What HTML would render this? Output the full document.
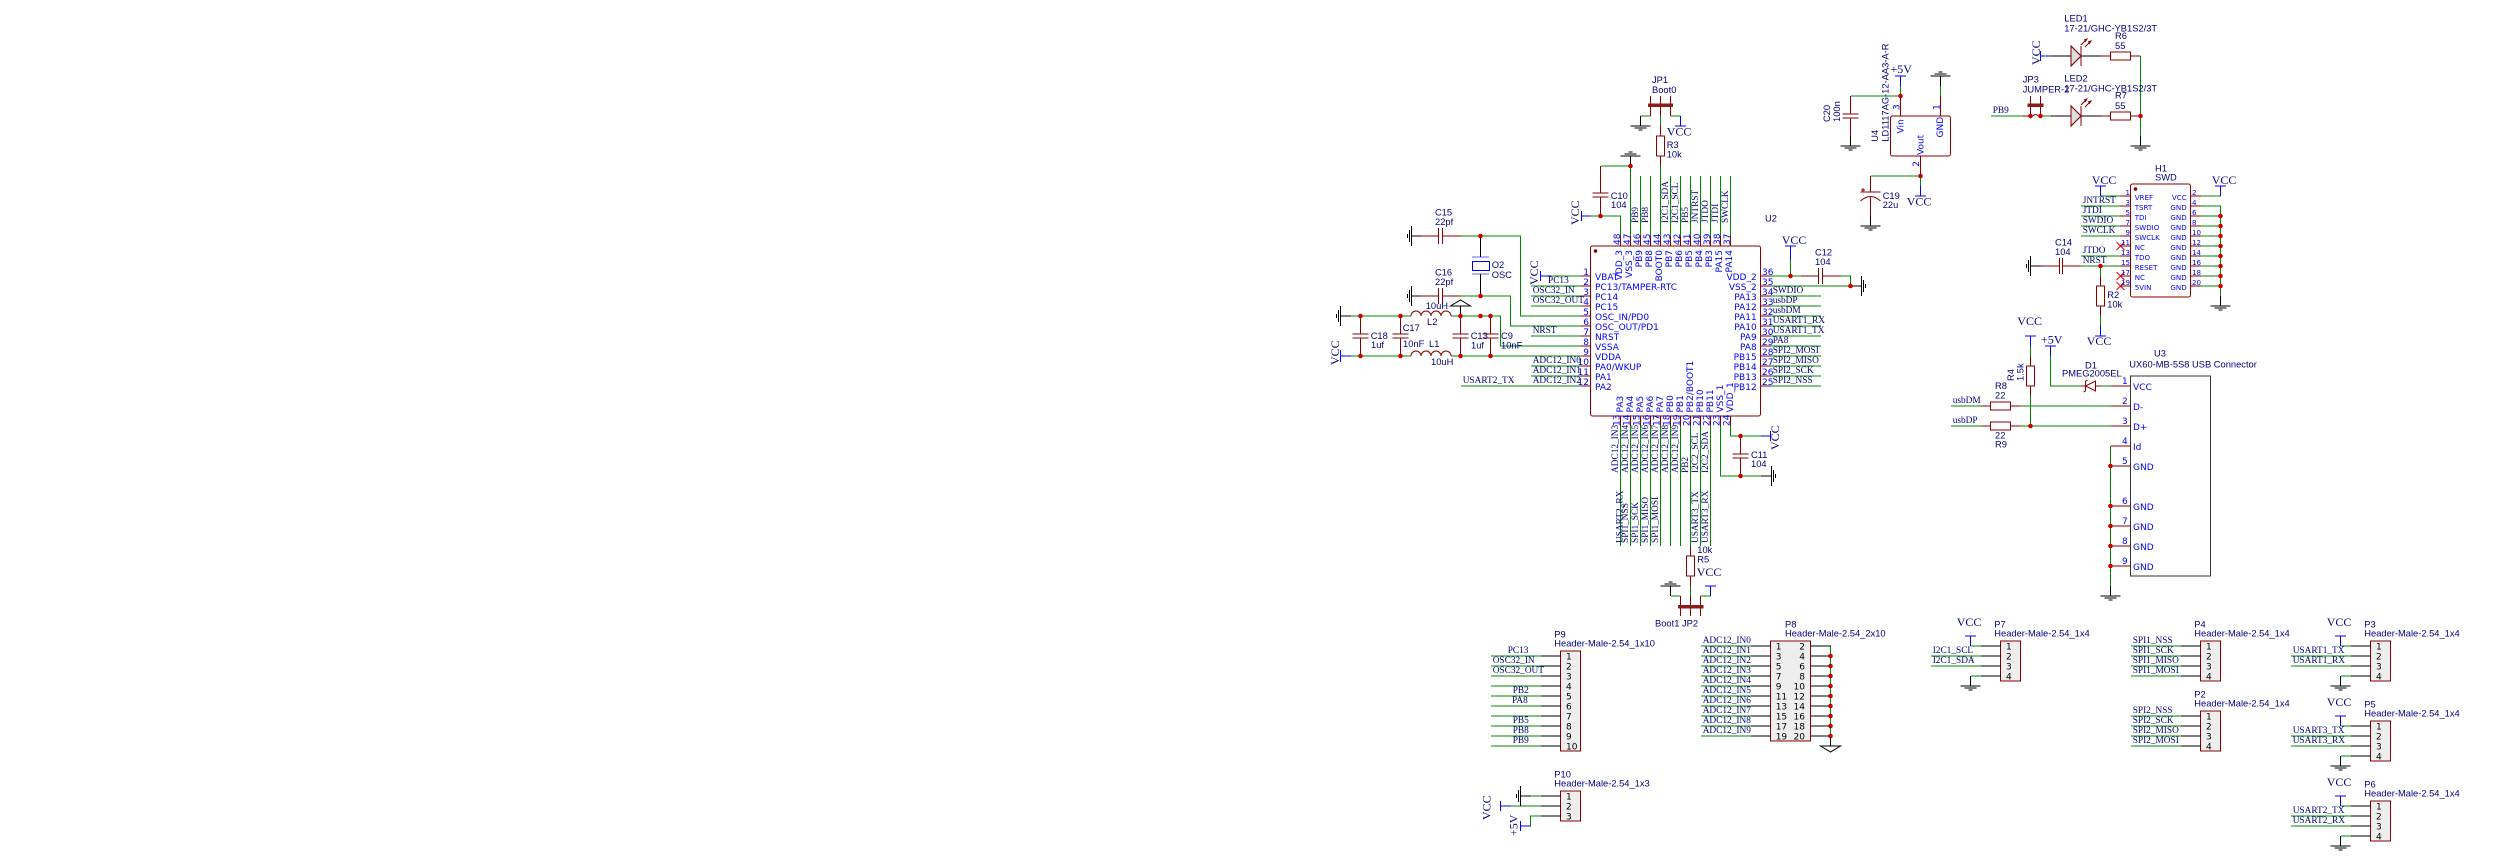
<!DOCTYPE html>
<html><head><meta charset="utf-8"><title>Schematic</title>
<style>
html,body{margin:0;padding:0;background:#fff}
svg{display:block}
.w,.p,.k,.b,.r{fill:none;stroke-width:1}
.w{stroke:#008800}.p{stroke:#880000}.k{stroke:#000}.b{stroke:#0000ff}
text{white-space:pre}
.nm{font:9px "DejaVu Sans",sans-serif;fill:#0000ff}
.bk{font:9px "DejaVu Sans",sans-serif;fill:#000}
.sm{font:7.1px "DejaVu Sans",sans-serif;fill:#0000ff}
.d{font:9.33px "Liberation Sans",sans-serif;fill:#000080}
.s{font:9.33px "Liberation Serif",serif;fill:#000080}
.v{font:12px "Liberation Serif",serif;fill:#000080}
.e{text-anchor:end}
</style></head><body>
<svg xmlns="http://www.w3.org/2000/svg" width="2500" height="862" viewBox="0 0 2500 862">
<defs>
<path id="gnd" d="M-10 0H10M-6 2H6M-2 4H2" fill="none" stroke="#000"/>
<circle id="j" r="2.3" fill="#cc0000"/>
</defs>
<rect width="2500" height="862" fill="#fff"/>

<!-- component bodies -->
<rect x="1590.5" y="246" width="170" height="170" rx="2" fill="#fff" stroke="#880000"/>
<circle cx="1595.5" cy="251" r="1.8" fill="#880000"/>
<rect x="1890.5" y="116" width="60" height="40" rx="2" fill="#fff" stroke="#880000"/>
<rect x="2130.5" y="184" width="60" height="113" rx="2" fill="#fff" stroke="#880000"/>
<circle cx="2135.5" cy="189" r="1.8" fill="#880000"/>
<rect x="2130.5" y="376" width="80" height="200" fill="#fff" stroke="#333"/>
<g fill="#eeeeee" stroke="#880000">
<rect x="1560.5" y="651" width="20" height="100"/>
<rect x="1560.5" y="791" width="20" height="30"/>
<rect x="1770.5" y="641" width="40" height="100"/>
<rect x="2000.5" y="641" width="20" height="40"/>
<rect x="2200.5" y="641" width="20" height="40"/>
<rect x="2200.5" y="711" width="20" height="40"/>
<rect x="2370.5" y="641" width="20" height="40"/>
<rect x="2370.5" y="721" width="20" height="40"/>
<rect x="2370.5" y="801" width="20" height="40"/>
</g>

<!-- green wires -->
<path class="w" d="
M1461 236H1520.5V316H1581
M1461 296H1510.5V326H1581
M1351 316H1411M1451 316H1500.5V346H1581
M1351 356H1411M1451 356H1581
M1551 276H1581M1531 286H1581M1531 296H1581M1531 306H1581M1531 336H1581
M1531 366H1581M1531 376H1581M1461 386H1581
M1591 216H1620.5V236
M1601 166H1630.5V236
M1640.5 176V236M1650.5 176V236M1670.5 176V236M1680.5 176V236M1690.5 176V236M1700.5 176V236M1710.5 176V236M1720.5 176V236M1730.5 176V236
M1660.5 166V236M1660.5 116V126
M1650.5 116H1640.5M1670.5 116H1680.5
M1771 276H1801M1841 276H1850.5V286M1771 286H1851M1790.5 276V260
M1771 296H1821M1771 306H1821M1771 316H1821M1771 326H1821M1771 336H1821M1771 346H1821M1771 356H1821M1771 366H1821M1771 376H1821M1771 386H1821
M1620.5 426V546M1630.5 426V546M1640.5 426V546M1650.5 426V546M1660.5 426V546M1670.5 426V546M1680.5 426V546M1690.5 426V546M1700.5 426V546M1710.5 426V546
M1720.5 426V476H1761M1730.5 426V436H1761
M1690.5 586V596M1680.5 596H1671M1700.5 596H1711
M1851 96H1901M1900.5 86V96M1940.5 86V96
M1871 176H1921M1920.5 176V186
M2140.5 56V136
M1991 116H2023M2041 116H2051
M2101 196H2121M2201 196H2220.5V186
M2201 206H2220.5V296
M2201 216H2221M2201 226H2221M2201 236H2221M2201 246H2221M2201 256H2221M2201 266H2221M2201 276H2221M2201 286H2221
M2081 206H2121M2081 216H2121M2081 226H2121M2081 236H2121M2081 256H2121M2081 266H2121
M2100.5 266V276M2100.5 316V326
M2030.5 346V356M2030.5 396V426
M2050.5 356V386H2081M2101 386H2111
M1951 406H1981M2021 406H2111M1951 426H1981M2021 426H2111
M2110.5 446V586
M1491 656H1541M1491 666H1541M1491 676H1541M1491 686H1541M1491 696H1541M1491 706H1541M1491 716H1541M1491 726H1541M1491 736H1541M1491 746H1541
M1531 796H1541M1511 806H1541M1541 816H1530.5V826
M1701 646H1751M1701 656H1751M1701 666H1751M1701 676H1751M1701 686H1751M1701 696H1751M1701 706H1751M1701 716H1751M1701 726H1751M1701 736H1751
M1830.5 646V736
M1971 646H1981M1931 656H1981M1931 666H1981M1971 676H1981
M2131 646H2181M2131 656H2181M2131 666H2181M2131 676H2181
M2131 716H2181M2131 726H2181M2131 736H2181M2131 746H2181
M2341 646H2351M2291 656H2351M2291 666H2351M2341 676H2351
M2341 726H2351M2291 736H2351M2291 746H2351M2341 756H2351
M2341 806H2351M2291 816H2351M2291 826H2351M2341 836H2351"/>

<!-- red pins / component leads -->
<path class="p" d="
M1581 276H1591M1581 286H1591M1581 296H1591M1581 306H1591M1581 316H1591M1581 326H1591M1581 336H1591M1581 346H1591M1581 356H1591M1581 366H1591M1581 376H1591M1581 386H1591
M1620.5 236V246M1630.5 236V246M1640.5 236V246M1650.5 236V246M1660.5 236V246M1670.5 236V246M1680.5 236V246M1690.5 236V246M1700.5 236V246M1710.5 236V246M1720.5 236V246M1730.5 236V246
M1761 276H1771M1761 286H1771M1761 296H1771M1761 306H1771M1761 316H1771M1761 326H1771M1761 336H1771M1761 346H1771M1761 356H1771M1761 366H1771M1761 376H1771M1761 386H1771
M1620.5 416V426M1630.5 416V426M1640.5 416V426M1650.5 416V426M1660.5 416V426M1670.5 416V426M1680.5 416V426M1690.5 416V426M1700.5 416V426M1710.5 416V426M1720.5 416V426M1730.5 416V426
M1421 236H1438.5M1442.5 236H1461M1438.5 228V244M1442.5 228V244
M1421 296H1438.5M1442.5 296H1461M1438.5 288V304M1442.5 288V304
M1360.5 316V334M1360.5 338V356M1352.5 334H1368.5M1352.5 338H1368.5
M1400.5 316V334M1400.5 338V356M1392.5 334H1408.5M1392.5 338H1408.5
M1460.5 316V334M1460.5 338V356M1452.5 334H1468.5M1452.5 338H1468.5
M1490.5 316V334M1490.5 338V356M1482.5 334H1498.5M1482.5 338H1498.5
M1411 316a5 5 0 0 1 10 0a5 5 0 0 1 10 0a5 5 0 0 1 10 0a5 5 0 0 1 10 0
M1411 356a5 5 0 0 1 10 0a5 5 0 0 1 10 0a5 5 0 0 1 10 0a5 5 0 0 1 10 0
M1600.5 166V193M1600.5 197V216M1592.5 193H1608.5M1592.5 197H1608.5
M1660.5 96V116M1660.5 126V136M1660.5 156V166M1650.5 96V116M1670.5 96V116
M1656.5 136H1664.5V156H1656.5Z
M1801 276H1818.5M1822.5 276H1841M1818.5 268V284M1822.5 268V284
M1740.5 436V454M1740.5 458V476M1732.5 454H1748.5M1732.5 458H1748.5
M1690.5 546V556M1690.5 576V586M1686.5 556H1694.5V576H1686.5Z
M1680.5 596V616M1690.5 596V616M1700.5 596V616
M1900.5 96V116M1940.5 96V116M1920.5 156V176
M1850.5 96V114M1850.5 118V136M1842.5 114H1858.5M1842.5 118H1858.5
M1870.5 176V192M1860.5 192H1880.5M1870.5 197V216M1860.5 201Q1870.5 192 1880.5 201M1863 188v4M1861 190h4
M2071 46V66L2081 56ZM2081 46V66M2101 56H2111M2131 56H2140.5M2110.5 52H2130.5V60H2110.5Z
M2071 106V126L2081 116ZM2081 106V126M2101 116H2111M2131 116H2140.5M2110.5 112H2130.5V120H2110.5Z
M2081 45L2087 39M2085 42L2087 39L2084 40M2085 47L2091 41M2089 44L2091 41L2088 42
M2081 105L2087 99M2085 102L2087 99L2084 100M2085 107L2091 101M2089 104L2091 101L2088 102
M2023 116H2030.5M2030.5 96V116M2040.5 96V116M2033 116a3 3 0 0 1 5 0
M2120 196H2131M2120 206H2131M2120 216H2131M2120 226H2131M2120 236H2131M2120 246H2131M2120 256H2131M2120 266H2131M2120 276H2131M2120 286H2131
M2191 196H2201M2191 206H2201M2191 216H2201M2191 226H2201M2191 236H2201M2191 246H2201M2191 256H2201M2191 266H2201M2191 276H2201M2191 286H2201
M2041 266H2059.5M2062.5 266H2081M2059.5 258V274M2062.5 258V274
M2100.5 276V286M2100.5 306V316M2096.5 286H2104.5V306H2096.5Z
M2030.5 356V366M2030.5 386V396M2026.5 366H2034.5V386H2026.5Z
M2081 386H2085.5M2095.5 386H2101M2095.5 381V391L2085.5 386ZM2085.5 381V391M2085.5 381L2087.5 380M2085.5 391L2083.5 392
M2111 386H2131M2111 406H2131M2111 426H2131M2111 446H2131M2111 466H2131M2111 506H2131M2111 526H2131M2111 546H2131M2111 566H2131
M1981 406H1990.5M2010.5 406H2021M1990.5 402H2010.5V410H1990.5Z
M1981 426H1990.5M2010.5 426H2021M1990.5 422H2010.5V430H1990.5Z"/>
<path d="M2071 46V66L2081 56Z" fill="#dddddd" stroke="#880000"/>
<path d="M2071 106V126L2081 116Z" fill="#dddddd" stroke="#880000"/>

<!-- jumper bars -->
<g fill="#8b1a1a">
<rect x="1648" y="103.5" width="25" height="3.5"/>
<rect x="1678" y="605" width="25.5" height="3.5"/>
<rect x="2027.5" y="103.5" width="16" height="3.5"/>
</g>

<!-- black leads -->
<path class="k" d="
M1411.5 236H1421M1411.5 296H1421M1340.5 316H1351
M1480.5 236V257M1480.5 274V296
M1460.5 316V306M1450.5 306H1470.5L1460.5 300Z
M1630.5 156V166M1640.5 116V126
M1851 286H1861.5M1761 476H1771.5
M1670.5 586V596
M1850.5 136V146M1870.5 216V226M1940.5 76V86
M2051 56H2071M2081 56H2101M2051 116H2071M2081 116H2101
M2140.5 136V146M2220.5 296V306M2031 266H2041
M2110.5 586V596
M1541 656H1561M1541 666H1561M1541 676H1561M1541 686H1561M1541 696H1561M1541 706H1561M1541 716H1561M1541 726H1561M1541 736H1561M1541 746H1561
M1541 796H1561M1541 806H1561M1541 816H1561M1520.5 796H1531
M1751 646H1771M1751 656H1771M1751 666H1771M1751 676H1771M1751 686H1771M1751 696H1771M1751 706H1771M1751 716H1771M1751 726H1771M1751 736H1771
M1811 646H1831M1811 656H1831M1811 666H1831M1811 676H1831M1811 686H1831M1811 696H1831M1811 706H1831M1811 716H1831M1811 726H1831M1811 736H1831
M1830.5 736V746M1820.5 746H1840.5L1830.5 752Z
M1981 646H2001M1981 656H2001M1981 666H2001M1981 676H2001M1970.5 676V686
M2181 646H2201M2181 656H2201M2181 666H2201M2181 676H2201
M2181 716H2201M2181 726H2201M2181 736H2201M2181 746H2201
M2351 646H2371M2351 656H2371M2351 666H2371M2351 676H2371M2340.5 676V686
M2351 726H2371M2351 736H2371M2351 746H2371M2351 756H2371M2340.5 756V766
M2351 806H2371M2351 816H2371M2351 826H2371M2351 836H2371M2340.5 836V846"/>

<!-- blue power symbols -->
<path class="b" d="
M1340.5 350V362M1340 356H1351
M1581.5 211V221M1581 216H1591
M1540.5 271V281M1541 276H1551
M1675 126H1686M1680.5 116V126
M1785 246H1796M1790.5 246V260
M1770.5 431V441M1761 436H1771
M1705 586H1716M1710.5 586V596
M1895 76H1906M1900.5 76V86
M1915 196H1926M1920.5 186V196
M2040.5 51V61M2041 56H2051
M2095 186H2106M2100.5 186V196
M2215 186H2226M2220.5 186V196
M2095 336H2106M2100.5 326V336
M2025 336H2036M2030.5 336V346
M2045 346H2056M2050.5 346V356
M1500.5 801V811M1501 806H1511
M1520.5 821V831M1521 826H1531
M1965 636H1976M1970.5 636V646
M2335 636H2346M2340.5 636V646
M2335 716H2346M2340.5 716V726
M2335 796H2346M2340.5 796V806"/>

<!-- crystal -->
<path d="M1472 257H1489M1472 274H1489" fill="none" stroke="#0000ff" stroke-opacity=".6"/>
<rect x="1472.5" y="261.5" width="17" height="9" fill="none" stroke="#0000ff"/>

<!-- X no-connects -->
<path d="M2116.5 242L2124.5 250M2124.5 242L2116.5 250M2116.5 272L2124.5 280M2124.5 272L2116.5 280M2116.5 282L2124.5 290M2124.5 282L2116.5 290" fill="none" stroke="#ee0000"/>

<!-- grounds -->
<use href="#gnd" transform="translate(1640.5 126)"/>
<use href="#gnd" transform="translate(1850.5 146)"/>
<use href="#gnd" transform="translate(1870.5 226)"/>
<use href="#gnd" transform="translate(2140.5 146)"/>
<use href="#gnd" transform="translate(2220.5 306)"/>
<use href="#gnd" transform="translate(2110.5 596)"/>
<use href="#gnd" transform="translate(1970.5 686)"/>
<use href="#gnd" transform="translate(2340.5 686)"/>
<use href="#gnd" transform="translate(2340.5 766)"/>
<use href="#gnd" transform="translate(2340.5 846)"/>
<use href="#gnd" transform="translate(1630.5 156) scale(1 -1)"/>
<use href="#gnd" transform="translate(1670.5 586) scale(1 -1)"/>
<use href="#gnd" transform="translate(1940.5 76) scale(1 -1)"/>
<use href="#gnd" transform="translate(1411.5 236) rotate(90)"/>
<use href="#gnd" transform="translate(1411.5 296) rotate(90)"/>
<use href="#gnd" transform="translate(1340.5 316) rotate(90)"/>
<use href="#gnd" transform="translate(2030.5 266) rotate(90)"/>
<use href="#gnd" transform="translate(1520.5 796) rotate(90)"/>
<use href="#gnd" transform="translate(1861.5 286) rotate(-90)"/>
<use href="#gnd" transform="translate(1771.5 476) rotate(-90)"/>

<!-- junctions -->
<g fill="#cc0000">
<circle cx="1480.5" cy="236" r="2.3"/><circle cx="1480.5" cy="296" r="2.3"/>
<circle cx="1360.5" cy="316" r="2.3"/><circle cx="1400.5" cy="316" r="2.3"/><circle cx="1460.5" cy="316" r="2.3"/><circle cx="1480.5" cy="316" r="2.3"/><circle cx="1490.5" cy="316" r="2.3"/>
<circle cx="1360.5" cy="356" r="2.3"/><circle cx="1400.5" cy="356" r="2.3"/><circle cx="1460.5" cy="356" r="2.3"/><circle cx="1490.5" cy="356" r="2.3"/>
<circle cx="1600.5" cy="216" r="2.3"/><circle cx="1630.5" cy="166" r="2.3"/>
<circle cx="1790.5" cy="276" r="2.3"/><circle cx="1850.5" cy="286" r="2.3"/>
<circle cx="1740.5" cy="436" r="2.3"/><circle cx="1740.5" cy="476" r="2.3"/>
<circle cx="1900.5" cy="96" r="2.3"/><circle cx="1920.5" cy="176" r="2.3"/>
<circle cx="2030.5" cy="116" r="2.3"/><circle cx="2040.5" cy="116" r="2.3"/><circle cx="2140.5" cy="116" r="2.3"/>
<circle cx="2100.5" cy="266" r="2.3"/>
<circle cx="2220.5" cy="216" r="2.3"/><circle cx="2220.5" cy="226" r="2.3"/><circle cx="2220.5" cy="236" r="2.3"/><circle cx="2220.5" cy="246" r="2.3"/><circle cx="2220.5" cy="256" r="2.3"/><circle cx="2220.5" cy="266" r="2.3"/><circle cx="2220.5" cy="276" r="2.3"/><circle cx="2220.5" cy="286" r="2.3"/>
<circle cx="2030.5" cy="426" r="2.3"/>
<circle cx="2110.5" cy="466" r="2.3"/><circle cx="2110.5" cy="506" r="2.3"/><circle cx="2110.5" cy="526" r="2.3"/><circle cx="2110.5" cy="546" r="2.3"/><circle cx="2110.5" cy="566" r="2.3"/>
<circle cx="1830.5" cy="656" r="2.3"/><circle cx="1830.5" cy="666" r="2.3"/><circle cx="1830.5" cy="676" r="2.3"/><circle cx="1830.5" cy="686" r="2.3"/><circle cx="1830.5" cy="696" r="2.3"/><circle cx="1830.5" cy="706" r="2.3"/><circle cx="1830.5" cy="716" r="2.3"/><circle cx="1830.5" cy="726" r="2.3"/><circle cx="1830.5" cy="736" r="2.3"/>
</g>

<!-- IC pin names -->
<g class="nm">
<text x="1595" y="280">VBAT</text><text x="1595" y="290">PC13/TAMPER-RTC</text><text x="1595" y="300">PC14</text><text x="1595" y="310">PC15</text><text x="1595" y="320">OSC_IN/PD0</text><text x="1595" y="330">OSC_OUT/PD1</text><text x="1595" y="340">NRST</text><text x="1595" y="350">VSSA</text><text x="1595" y="360">VDDA</text><text x="1595" y="370">PA0/WKUP</text><text x="1595" y="380">PA1</text><text x="1595" y="390">PA2</text>
<g class="e" text-anchor="end">
<text x="1589" y="275">1</text><text x="1589" y="285">2</text><text x="1589" y="295">3</text><text x="1589" y="305">4</text><text x="1589" y="315">5</text><text x="1589" y="325">6</text><text x="1589" y="335">7</text><text x="1589" y="345">8</text><text x="1589" y="355">9</text><text x="1589" y="365">10</text><text x="1589" y="375">11</text><text x="1589" y="385">12</text>
<text x="1756.7" y="280">VDD_2</text><text x="1756.7" y="290">VSS_2</text><text x="1756.7" y="300">PA13</text><text x="1756.7" y="310">PA12</text><text x="1756.7" y="320">PA11</text><text x="1756.7" y="330">PA10</text><text x="1756.7" y="340">PA9</text><text x="1756.7" y="350">PA8</text><text x="1756.7" y="360">PB15</text><text x="1756.7" y="370">PB14</text><text x="1756.7" y="380">PB13</text><text x="1756.7" y="390">PB12</text>
<text transform="translate(1622 250) rotate(-90)">VDD_3</text><text transform="translate(1632 250) rotate(-90)">VSS_3</text><text transform="translate(1642 250) rotate(-90)">PB9</text><text transform="translate(1652 250) rotate(-90)">PB8</text><text transform="translate(1662 250) rotate(-90)">BOOT0</text><text transform="translate(1672 250) rotate(-90)">PB7</text><text transform="translate(1682 250) rotate(-90)">PB6</text><text transform="translate(1692 250) rotate(-90)">PB5</text><text transform="translate(1702 250) rotate(-90)">PB4</text><text transform="translate(1712 250) rotate(-90)">PB3</text><text transform="translate(1722 250) rotate(-90)">PA15</text><text transform="translate(1732 250) rotate(-90)">PA14</text>
</g>
<text x="1762" y="275">36</text><text x="1762" y="285">35</text><text x="1762" y="295">34</text><text x="1762" y="305">33</text><text x="1762" y="315">32</text><text x="1762" y="325">31</text><text x="1762" y="335">30</text><text x="1762" y="345">29</text><text x="1762" y="355">28</text><text x="1762" y="365">27</text><text x="1762" y="375">26</text><text x="1762" y="385">25</text>
<text transform="translate(1620 245) rotate(-90)">48</text><text transform="translate(1630 245) rotate(-90)">47</text><text transform="translate(1640 245) rotate(-90)">46</text><text transform="translate(1650 245) rotate(-90)">45</text><text transform="translate(1660 245) rotate(-90)">44</text><text transform="translate(1670 245) rotate(-90)">43</text><text transform="translate(1680 245) rotate(-90)">42</text><text transform="translate(1690 245) rotate(-90)">41</text><text transform="translate(1700 245) rotate(-90)">40</text><text transform="translate(1710 245) rotate(-90)">39</text><text transform="translate(1720 245) rotate(-90)">38</text><text transform="translate(1730 245) rotate(-90)">37</text>
<text transform="translate(1619.5 426) rotate(-90)">13</text><text transform="translate(1629.5 426) rotate(-90)">14</text><text transform="translate(1639.5 426) rotate(-90)">15</text><text transform="translate(1649.5 426) rotate(-90)">16</text><text transform="translate(1659.5 426) rotate(-90)">17</text><text transform="translate(1669.5 426) rotate(-90)">18</text><text transform="translate(1679.5 426) rotate(-90)">19</text><text transform="translate(1689.5 426) rotate(-90)">20</text><text transform="translate(1699.5 426) rotate(-90)">21</text><text transform="translate(1709.5 426) rotate(-90)">22</text><text transform="translate(1719.5 426) rotate(-90)">23</text><text transform="translate(1729.5 426) rotate(-90)">24</text>
<text transform="translate(1623 412.5) rotate(-90)">PA3</text><text transform="translate(1633 412.5) rotate(-90)">PA4</text><text transform="translate(1643 412.5) rotate(-90)">PA5</text><text transform="translate(1653 412.5) rotate(-90)">PA6</text><text transform="translate(1663 412.5) rotate(-90)">PA7</text><text transform="translate(1673 412.5) rotate(-90)">PB0</text><text transform="translate(1683 412.5) rotate(-90)">PB1</text><text transform="translate(1693 412.5) rotate(-90)">PB2/BOOT1</text><text transform="translate(1703 412.5) rotate(-90)">PB10</text><text transform="translate(1713 412.5) rotate(-90)">PB11</text><text transform="translate(1723 412.5) rotate(-90)">VSS_1</text><text transform="translate(1733 412.5) rotate(-90)">VDD_1</text>
<!-- U4 -->
<text transform="translate(1903.3 133.5) rotate(-90)">Vin</text><text transform="translate(1923.3 155) rotate(-90)">Vout</text><text transform="translate(1943 137.5) rotate(-90)">GND</text>
<text transform="translate(1899.3 110) rotate(-90)">3</text><text transform="translate(1919 166.7) rotate(-90)">2</text><text transform="translate(1939.3 110) rotate(-90)">1</text>
<!-- U3 -->
<text x="2133" y="390">VCC</text><text x="2133" y="410">D-</text><text x="2133" y="430">D+</text><text x="2133" y="450">Id</text><text x="2133" y="470">GND</text><text x="2133" y="510">GND</text><text x="2133" y="530">GND</text><text x="2133" y="550">GND</text><text x="2133" y="570">GND</text>
<text x="2122" y="384">1</text><text x="2122" y="404">2</text><text x="2122" y="424">3</text><text x="2122" y="444">4</text><text x="2122" y="464">5</text><text x="2122" y="504">6</text><text x="2122" y="524">7</text><text x="2122" y="544">8</text><text x="2122" y="564">9</text>
</g>

<!-- H1 small text -->
<g class="sm">
<text x="2134.7" y="200">VREF</text><text x="2134.7" y="210">TSRT</text><text x="2134.7" y="220">TDI</text><text x="2134.7" y="230">SWDIO</text><text x="2134.7" y="240">SWCLK</text><text x="2134.7" y="250">NC</text><text x="2134.7" y="260">TDO</text><text x="2134.7" y="270">RESET</text><text x="2134.7" y="280">NC</text><text x="2134.7" y="290">5VIN</text>
<g text-anchor="end">
<text x="2186.7" y="200">VCC</text><text x="2186.7" y="210">GND</text><text x="2186.7" y="220">GND</text><text x="2186.7" y="230">GND</text><text x="2186.7" y="240">GND</text><text x="2186.7" y="250">GND</text><text x="2186.7" y="260">GND</text><text x="2186.7" y="270">GND</text><text x="2186.7" y="280">GND</text><text x="2186.7" y="290">GND</text>
<text x="2130" y="195">1</text><text x="2130" y="205">3</text><text x="2130" y="215">5</text><text x="2130" y="225">7</text><text x="2130" y="235">9</text><text x="2130" y="245">11</text><text x="2130" y="255">13</text><text x="2130" y="265">15</text><text x="2130" y="275">17</text><text x="2130" y="285">19</text>
</g>
<text x="2192" y="195">2</text><text x="2192" y="205">4</text><text x="2192" y="215">6</text><text x="2192" y="225">8</text><text x="2192" y="235">10</text><text x="2192" y="245">12</text><text x="2192" y="255">14</text><text x="2192" y="265">16</text><text x="2192" y="275">18</text><text x="2192" y="285">20</text>
</g>

<!-- header pin numbers -->
<g class="bk">
<text x="1566" y="659.5">1</text><text x="1566" y="669.5">2</text><text x="1566" y="679.5">3</text><text x="1566" y="689.5">4</text><text x="1566" y="699.5">5</text><text x="1566" y="709.5">6</text><text x="1566" y="719.5">7</text><text x="1566" y="729.5">8</text><text x="1566" y="739.5">9</text><text x="1566" y="749.5">10</text>
<text x="1566" y="799.5">1</text><text x="1566" y="809.5">2</text><text x="1566" y="819.5">3</text>
<text x="1775.7" y="649.5">1</text><text x="1775.7" y="659.5">3</text><text x="1775.7" y="669.5">5</text><text x="1775.7" y="679.5">7</text><text x="1775.7" y="689.5">9</text><text x="1775.7" y="699.5">11</text><text x="1775.7" y="709.5">13</text><text x="1775.7" y="719.5">15</text><text x="1775.7" y="729.5">17</text><text x="1775.7" y="739.5">19</text>
<g text-anchor="end"><text x="1805" y="649.5">2</text><text x="1805" y="659.5">4</text><text x="1805" y="669.5">6</text><text x="1805" y="679.5">8</text><text x="1805" y="689.5">10</text><text x="1805" y="699.5">12</text><text x="1805" y="709.5">14</text><text x="1805" y="719.5">16</text><text x="1805" y="729.5">18</text><text x="1805" y="739.5">20</text></g>
<text x="2006" y="649.5">1</text><text x="2006" y="659.5">2</text><text x="2006" y="669.5">3</text><text x="2006" y="679.5">4</text>
<text x="2206" y="649.5">1</text><text x="2206" y="659.5">2</text><text x="2206" y="669.5">3</text><text x="2206" y="679.5">4</text>
<text x="2206" y="719.5">1</text><text x="2206" y="729.5">2</text><text x="2206" y="739.5">3</text><text x="2206" y="749.5">4</text>
<text x="2376" y="649.5">1</text><text x="2376" y="659.5">2</text><text x="2376" y="669.5">3</text><text x="2376" y="679.5">4</text>
<text x="2376" y="729.5">1</text><text x="2376" y="739.5">2</text><text x="2376" y="749.5">3</text><text x="2376" y="759.5">4</text>
<text x="2376" y="809.5">1</text><text x="2376" y="819.5">2</text><text x="2376" y="829.5">3</text><text x="2376" y="839.5">4</text>
</g>

<!-- designators and values -->
<g class="d">
<text x="1435" y="215.7">C15</text><text x="1435" y="225">22pf</text>
<text x="1491.7" y="268">O2</text><text x="1491.7" y="278">OSC</text>
<text x="1435" y="275.7">C16</text><text x="1435" y="285">22pf</text>
<text x="1425.7" y="309">10uH</text><text x="1427" y="325">L2</text>
<text x="1370.7" y="339">C18</text><text x="1371" y="348">1uf</text>
<text x="1402.7" y="331">C17</text><text x="1403" y="347">10nF</text>
<text x="1470.7" y="339">C13</text><text x="1471" y="348.5">1uf</text>
<text x="1501" y="339">C9</text><text x="1501" y="348.5">10nF</text>
<text x="1429" y="347">L1</text><text x="1431" y="365">10uH</text>
<text x="1610.7" y="199">C10</text><text x="1611" y="208">104</text>
<text x="1652" y="83">JP1</text><text x="1652" y="93">Boot0</text>
<text x="1666.7" y="148">R3</text><text x="1666.7" y="157.7">10k</text>
<text x="1765" y="221.7">U2</text>
<text x="1815" y="255.7">C12</text><text x="1815" y="265">104</text>
<text x="1751" y="458">C11</text><text x="1751" y="467">104</text>
<text x="1697.3" y="553">10k</text><text x="1697.3" y="562.3">R5</text>
<text x="1655" y="626.7">Boot1</text><text x="1682" y="626.7">JP2</text>
<text transform="translate(1830 122) rotate(-90)">C20</text><text transform="translate(1840 122) rotate(-90)">100n</text>
<text transform="translate(1878 141.7) rotate(-90)">U4</text><text transform="translate(1888.3 141.7) rotate(-90)">LD1117AG-12-AA3-A-R</text>
<text x="1882.7" y="199">C19</text><text x="1882.7" y="208">22u</text>
<text x="2064.3" y="21.7">LED1</text><text x="2064.3" y="31.7">17-21/GHC-YB1S2/3T</text>
<text x="2115" y="39">R6</text><text x="2115" y="49">55</text>
<text x="2064.3" y="81.7">LED2</text><text x="2064.3" y="91.7">17-21/GHC-YB1S2/3T</text>
<text x="2115" y="98.3">R7</text><text x="2115" y="109">55</text>
<text x="2022.7" y="82.3">JP3</text><text x="2022.7" y="92.3">JUMPER-2</text>
<text x="2155" y="171.7">H1</text><text x="2155" y="180.7">SWD</text>
<text x="2107.3" y="298">R2</text><text x="2107.3" y="307.7">10k</text>
<text x="2055" y="245.7">C14</text><text x="2055" y="255">104</text>
<text x="2085" y="368.3">D1</text><text x="2062" y="376.7">PMEG2005EL</text>
<text x="2154" y="356.7">U3</text><text x="2129.3" y="367.3">UX60-MB-5S8 USB Connector</text>
<text transform="translate(2014 381) rotate(-90)">R4</text><text transform="translate(2023.3 381) rotate(-90)">1.5k</text>
<text x="1995" y="389">R8</text><text x="1995" y="398.3">22</text>
<text x="1995" y="438.3">22</text><text x="1995" y="447.7">R9</text>
<text x="1554.3" y="637.3">P9</text><text x="1554.3" y="646.7">Header-Male-2.54_1x10</text>
<text x="1554.3" y="777.3">P10</text><text x="1554.3" y="786.7">Header-Male-2.54_1x3</text>
<text x="1785" y="627.3">P8</text><text x="1785" y="636.7">Header-Male-2.54_2x10</text>
<text x="1994.3" y="627.3">P7</text><text x="1994.3" y="636.7">Header-Male-2.54_1x4</text>
<text x="2194.3" y="627.3">P4</text><text x="2194.3" y="636.7">Header-Male-2.54_1x4</text>
<text x="2194.3" y="697.3">P2</text><text x="2194.3" y="706.7">Header-Male-2.54_1x4</text>
<text x="2364.3" y="627.3">P3</text><text x="2364.3" y="636.7">Header-Male-2.54_1x4</text>
<text x="2364.3" y="707.3">P5</text><text x="2364.3" y="716.7">Header-Male-2.54_1x4</text>
<text x="2364.3" y="787.3">P6</text><text x="2364.3" y="796.7">Header-Male-2.54_1x4</text>
</g>

<!-- net labels -->
<g class="s">
<text x="1548" y="283">PC13</text><text x="1532.7" y="293">OSC32_IN</text><text x="1532.7" y="303">OSC32_OUT</text><text x="1532.7" y="333">NRST</text><text x="1532.7" y="363">ADC12_IN0</text><text x="1532.7" y="373">ADC12_IN1</text><text x="1532.7" y="383">ADC12_IN2</text><text x="1462.7" y="383">USART2_TX</text>
<text x="1772.7" y="293">SWDIO</text><text x="1772.7" y="303">usbDP</text><text x="1772.7" y="313">usbDM</text><text x="1772.7" y="323">USART1_RX</text><text x="1772.7" y="333">USART1_TX</text><text x="1772.7" y="343">PA8</text><text x="1772.7" y="353">SPI2_MOSI</text><text x="1772.7" y="363">SPI2_MISO</text><text x="1772.7" y="373">SPI2_SCK</text><text x="1772.7" y="383">SPI2_NSS</text>
<text transform="translate(1638 223) rotate(-90)">PB9</text><text transform="translate(1648 223) rotate(-90)">PB8</text><text transform="translate(1668 223) rotate(-90)">I2C1_SDA</text><text transform="translate(1678 223) rotate(-90)">I2C1_SCL</text><text transform="translate(1688 223) rotate(-90)">PB5</text><text transform="translate(1698 223) rotate(-90)">JNTRST</text><text transform="translate(1708 223) rotate(-90)">JTDO</text><text transform="translate(1718 223) rotate(-90)">JTDI</text><text transform="translate(1728 223) rotate(-90)">SWCLK</text>
<text transform="translate(1618 473) rotate(-90)">ADC12_IN3</text><text transform="translate(1628 473) rotate(-90)">ADC12_IN4</text><text transform="translate(1638 473) rotate(-90)">ADC12_IN5</text><text transform="translate(1648 473) rotate(-90)">ADC12_IN6</text><text transform="translate(1658 473) rotate(-90)">ADC12_IN7</text><text transform="translate(1668 473) rotate(-90)">ADC12_IN8</text><text transform="translate(1678 473) rotate(-90)">ADC12_IN9</text><text transform="translate(1688 473) rotate(-90)">PB2</text><text transform="translate(1698 473) rotate(-90)">I2C2_SCL</text><text transform="translate(1708 473) rotate(-90)">I2C2_SDA</text>
<text transform="translate(1622.7 543) rotate(-90)">USART2_RX</text><text transform="translate(1628 543) rotate(-90)">SPI1_NSS</text><text transform="translate(1638 543) rotate(-90)">SPI1_SCK</text><text transform="translate(1648 543) rotate(-90)">SPI1_MISO</text><text transform="translate(1658 543) rotate(-90)">SPI1_MOSI</text><text transform="translate(1698 543) rotate(-90)">USART3_TX</text><text transform="translate(1708 543) rotate(-90)">USART3_RX</text>
<text x="1992.7" y="113">PB9</text>
<text x="2082.7" y="203">JNTRST</text><text x="2082.7" y="213">JTDI</text><text x="2082.7" y="223">SWDIO</text><text x="2082.7" y="233">SWCLK</text><text x="2082.7" y="253">JTDO</text><text x="2082.7" y="263">NRST</text>
<text x="1952.7" y="403">usbDM</text><text x="1952.7" y="423">usbDP</text>
<text x="1507.7" y="653">PC13</text><text x="1492.7" y="663">OSC32_IN</text><text x="1492.7" y="673">OSC32_OUT</text><text x="1512.7" y="693">PB2</text><text x="1512" y="703">PA8</text><text x="1512.7" y="723">PB5</text><text x="1512.7" y="733">PB8</text><text x="1512.7" y="743">PB9</text>
<text x="1702.7" y="643">ADC12_IN0</text><text x="1702.7" y="653">ADC12_IN1</text><text x="1702.7" y="663">ADC12_IN2</text><text x="1702.7" y="673">ADC12_IN3</text><text x="1702.7" y="683">ADC12_IN4</text><text x="1702.7" y="693">ADC12_IN5</text><text x="1702.7" y="703">ADC12_IN6</text><text x="1702.7" y="713">ADC12_IN7</text><text x="1702.7" y="723">ADC12_IN8</text><text x="1702.7" y="733">ADC12_IN9</text>
<text x="1932.7" y="653">I2C1_SCL</text><text x="1932.7" y="663">I2C1_SDA</text>
<text x="2132.7" y="643">SPI1_NSS</text><text x="2132.7" y="653">SPI1_SCK</text><text x="2132.7" y="663">SPI1_MISO</text><text x="2132.7" y="673">SPI1_MOSI</text>
<text x="2132.7" y="713">SPI2_NSS</text><text x="2132.7" y="723">SPI2_SCK</text><text x="2132.7" y="733">SPI2_MISO</text><text x="2132.7" y="743">SPI2_MOSI</text>
<text x="2292.7" y="653">USART1_TX</text><text x="2292.7" y="663">USART1_RX</text>
<text x="2292.7" y="733">USART3_TX</text><text x="2292.7" y="743">USART3_RX</text>
<text x="2292.7" y="813">USART2_TX</text><text x="2292.7" y="823">USART2_RX</text>
</g>

<!-- power labels -->
<g class="v">
<text transform="translate(1339 365) rotate(-90)">VCC</text>
<text transform="translate(1579 225) rotate(-90)">VCC</text>
<text transform="translate(1538 285) rotate(-90)">VCC</text>
<text x="1666.7" y="135.7">VCC</text>
<text x="1781.7" y="244">VCC</text>
<text transform="translate(1779 450) rotate(-90)">VCC</text>
<text x="1696.7" y="576">VCC</text>
<text x="1890.5" y="73">+5V</text>
<text x="1906.7" y="205.7">VCC</text>
<text transform="translate(2040 65) rotate(-90)">VCC</text>
<text x="2091.7" y="184">VCC</text>
<text x="2211.7" y="184">VCC</text>
<text x="2086.7" y="345">VCC</text>
<text x="2017.3" y="325">VCC</text>
<text x="2041" y="343.3">+5V</text>
<text transform="translate(1490.7 820) rotate(-90)">VCC</text>
<text transform="translate(1517.3 836) rotate(-90)">+5V</text>
<text x="1956.7" y="626">VCC</text>
<text x="2326.7" y="626">VCC</text>
<text x="2326.7" y="706">VCC</text>
<text x="2326.7" y="786">VCC</text>
</g>
</svg>
</body></html>
